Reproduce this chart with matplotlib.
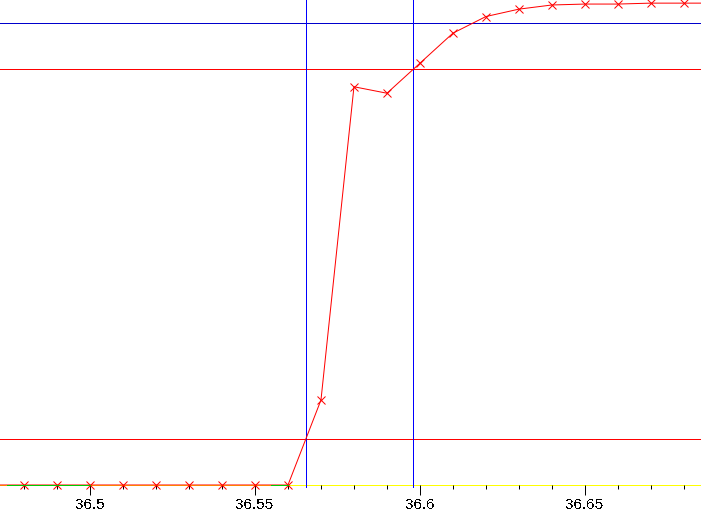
import numpy as np
import matplotlib
matplotlib.use("Agg")
import matplotlib.pyplot as plt
from matplotlib.ticker import FixedLocator, MultipleLocator

# sampled edge (normalised to the final level)
t = [36.47, 36.48, 36.49, 36.50, 36.51, 36.52, 36.53, 36.54, 36.55, 36.56,
     36.57, 36.58, 36.59, 36.60, 36.61, 36.62, 36.63, 36.64, 36.65, 36.66,
     36.67, 36.68, 36.69]
v = [0.0, 0.0, 0.0, 0.0, 0.0, 0.0, 0.0, 0.0, 0.0, 0.0,
     0.184, 0.862, 0.848, 0.913, 0.978, 1.014, 1.030, 1.039, 1.041, 1.041,
     1.043, 1.043, 1.043]

low_level = 0.1
high_level = 0.9
top_level = 1.0

major_ticks = [36.5, 36.55, 36.6, 36.65]
major_labels = ["36.5", "36.55", "36.6", "36.65"]

# stretches where the trace is drawn green on the baseline
green_spans = [(36.4749, 36.4999), (36.5549, 36.5599)]

plt.rcParams['font.family'] = ['Liberation Sans', 'DejaVu Sans']
plt.rcParams['text.antialiased'] = False

px = 0.72  # one pixel in points at dpi 100

fig = plt.figure(figsize=(7.01, 5.13), dpi=100)
ax = fig.add_axes([0, 0, 1, 1])
ax.set_xlim(36.4727, 36.6852)
ax.set_ylim(-28 / 462, 485 / 462)

for s in ['top', 'left', 'right']:
    ax.spines[s].set_visible(False)
ax.spines['bottom'].set_position(('data', 0))
ax.spines['bottom'].set_color('#ffff00')
ax.spines['bottom'].set_linewidth(px)
ax.spines['bottom'].set_zorder(1)
ax.set_yticks([])

ax.xaxis.set_major_locator(FixedLocator(major_ticks))
ax.set_xticklabels(major_labels)
ax.xaxis.set_minor_locator(MultipleLocator(0.01))
ax.tick_params(axis='x', which='major', direction='out', length=7.2,
               width=px, color='black', labelsize=11, pad=2, zorder=5)
ax.tick_params(axis='x', which='minor', direction='out', length=3,
               width=px, color='black')

# reference levels
ax.axhline(top_level, color='#0000cc', lw=px, antialiased=False)
ax.axhline(high_level, color='#ff0000', lw=px, antialiased=False)
ax.axhline(low_level, color='#ff0000', lw=px, antialiased=False)

# crossing times of the 10% and 90% levels
tt = np.array(t)
vv = np.array(v)
t_low = np.interp(low_level, vv[9:11], tt[9:11])
t_high = np.interp(high_level, vv[12:14], tt[12:14])
ax.vlines([t_low, t_high], -0.005, 1.06, color='#0000ff', lw=px,
          antialiased=False, zorder=2)

ax.plot(t, v, color='#ff0000', lw=px, marker='x', markersize=6,
        markeredgewidth=px, zorder=3)

for a, b in green_spans:
    ax.hlines(0, a, b, color='#00cc00', lw=px, antialiased=False, zorder=4)

fig.savefig('out.png', dpi=100)
